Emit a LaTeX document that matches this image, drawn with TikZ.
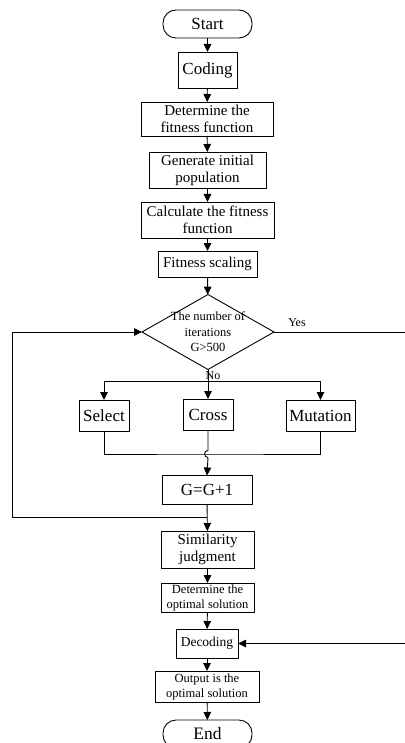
\documentclass[tikz,border=0pt]{standalone}
\usepackage{fontspec}
\setmainfont{Liberation Serif}
\usetikzlibrary{arrows.meta,shapes.geometric}
\begin{document}
\begin{tikzpicture}[x=1pt,y=-1pt,
  every node/.style={inner sep=0pt, outer sep=0pt},
  box/.style={draw, line width=0.9pt, align=center},
  term/.style={draw, line width=0.9pt, rounded corners=13pt, align=center, font=\fontsize{17}{19}\selectfont},
  big/.style={font=\fontsize{17}{19}\selectfont},
  mid/.style={font=\fontsize{15}{17}\selectfont},
  sml/.style={font=\fontsize{12.5}{15}\selectfont},
  ln/.style={line width=0.9pt},
  arr/.style={line width=0.9pt, -{Triangle[length=8pt,width=7.5pt]}}]
\useasboundingbox (0,0) rectangle (404,743);
\node[term, minimum width=89pt, minimum height=28pt] (start) at (207.5,24) {Start};
\node[box, big, minimum width=59pt, minimum height=36pt] (cod) at (207.5,70) {Coding};
\node[box, mid, minimum width=132pt, minimum height=34pt] (fit) at (207,119) {Determine the\\fitness function};
\node[box, mid, minimum width=117pt, minimum height=36pt] (gen) at (207.5,170) {Generate initial\\population};
\node[box, mid, minimum width=133pt, minimum height=36pt] (calc) at (207.5,220) {Calculate the fitness\\function};
\node[box, mid, minimum width=99pt, minimum height=26pt] (scal) at (207.5,264) {Fitness scaling};
\node[draw, line width=0.9pt, diamond, minimum width=132pt, minimum height=75pt] (dia) at (208,332) {};
\node[align=center, font=\fontsize{12.5}{15.5}\selectfont] (diat) at (208,332) {The number of\\iterations\\G>500};
\node[font=\fontsize{12}{14}\selectfont] (yes) at (297,323) {Yes};
\node[font=\fontsize{12}{14}\selectfont] (no) at (213,376) {No};
\node[box, big, minimum width=50pt, minimum height=31pt] (sel) at (104,415.5) {Select};
\node[box, big, minimum width=50pt, minimum height=31pt] (cross) at (208,414.5) {Cross};
\node[box, big, minimum width=69pt, minimum height=31pt] (mut) at (320.5,415.5) {Mutation};
\node[box, big, minimum width=90pt, minimum height=29pt] (gg) at (207,490) {G=G+1};
\node[box, mid, minimum width=93pt, minimum height=37pt] (sim) at (207.5,549.5) {Similarity\\judgment};
\node[box, sml, minimum width=93pt, minimum height=29pt] (opt) at (207.5,597.5) {Determine the\\optimal solution};
\node[box, font=\fontsize{13.5}{15}\selectfont, minimum width=62pt, minimum height=29pt] (dec) at (207,643.5) {Decoding};
\node[box, sml, minimum width=104pt, minimum height=31pt] (out) at (207,686.5) {Output is the\\optimal solution};
\node[term, minimum width=89pt, minimum height=28pt, font=\fontsize{17.5}{19}\selectfont] (end) at (207.5,734) {End};
% main chain
\draw[arr] (start) -- (cod);
\draw[arr] (cod) -- (fit);
\draw[arr] (fit) -- (gen);
\draw[arr] (gen) -- (calc);
\draw[arr] (calc) -- (scal);
\draw[arr] (scal) -- (dia);
% branches
\coordinate (br) at (208,381);
\draw[ln] (dia.south) -- (br);
\draw[arr] (br) -| (sel.north);
\draw[arr] (br) -| (mut.north);
\draw[arr] (br) -- (cross.north);
% merge
\coordinate (mg) at (208,454);
\coordinate (hopa) at (208,450.5);
\coordinate (hopb) at (208,457.5);
\draw[ln] (sel.south) |- (mg) -| (mut.south);
\draw[ln] (cross.south) -- (hopa) .. controls (203.5,450.5) and (203.5,457.5) .. (hopb);
\draw[arr] (hopb) -- (gg.north);
% loop back
\coordinate (lj) at (207,517);
\coordinate (lx) at (12,517);
\draw[arr] (gg) -- (sim);
\draw[arr] (lj) -- (lx) |- (dia.west);
\draw[arr] (sim) -- (opt);
\draw[arr] (opt) -- (dec);
\draw[arr] (dec) -- (out);
\draw[arr] (out) -- (end);
% yes path
\coordinate (yx) at (408,332);
\draw[arr] (dia.east) -- (yx) |- (dec.east);
\end{tikzpicture}
\end{document}
